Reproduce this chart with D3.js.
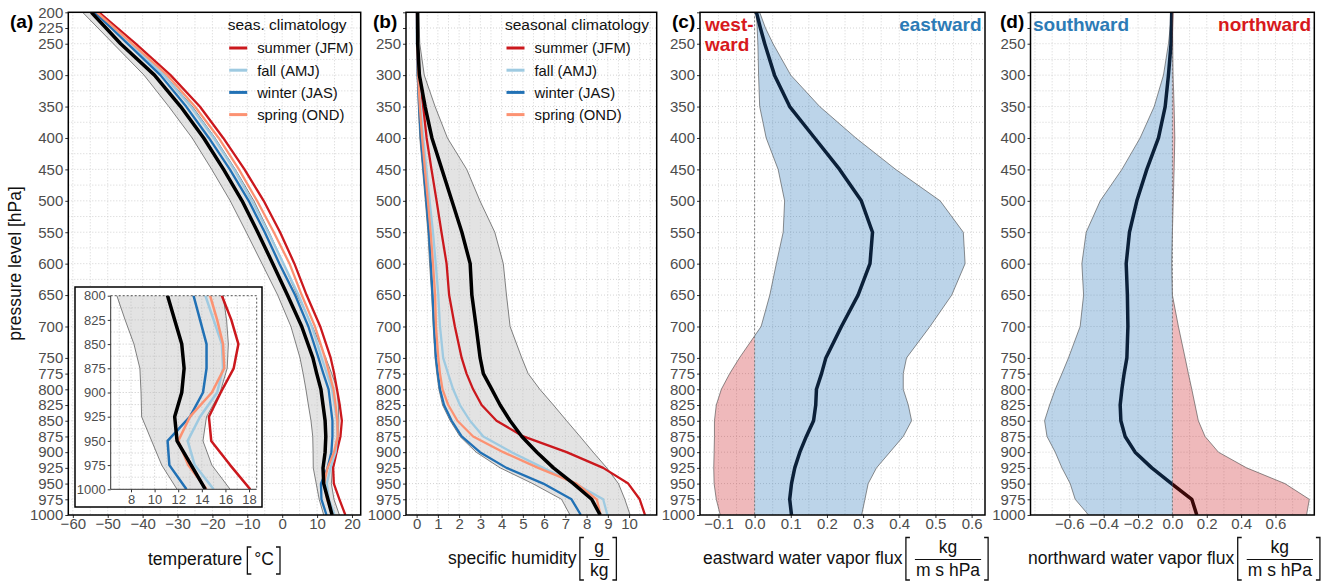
<!DOCTYPE html>
<html><head><meta charset="utf-8">
<script src="https://cdn.jsdelivr.net/npm/d3@7"></script>
<style>body{margin:0;background:#fff;} svg text{font-family:"Liberation Sans",Arial,sans-serif;}</style>
</head><body><svg id="chart" width="1324" height="584"></svg>
<script>
// ---------------- data ----------------
const levels = [200,225,250,300,350,400,450,500,550,600,650,700,750,775,800,825,850,875,900,925,950,975,1000];
const seasons = ["summer (JFM)","fall (AMJ)","winter (JAS)","spring (OND)"];
const seasonColors = ["#cb181d","#9ecae1","#2171b5","#fc9272"];

// (a) temperature [°C]
const tempMean   = [-54.7,-50.5,-46.3,-36.6,-29.1,-22.5,-16.8,-11.5,-7.0,-2.7,1.5,5.6,8.8,9.9,11.1,11.7,12.3,12.5,12.3,11.7,11.9,13.1,14.3];
const tempLow    = [-57.2,-52.8,-48.4,-39.6,-32.5,-25.8,-20.2,-14.9,-10.3,-5.8,-1.3,2.5,5.1,6.0,6.8,7.5,8.25,8.75,8.85,8.9,9.75,10.6,11.9];
const tempHigh   = [-52.2,-48.2,-44.2,-33.6,-25.7,-19.2,-13.4,-8.1,-3.7,0.4,4.3,8.7,12.5,14.2,15.8,16.1,16.25,16.15,15.55,14.4,14.1,14.85,16.4];
const tempSummer = [-52.5,-47.2,-42.0,-32.0,-23.6,-16.9,-10.8,-5.3,-0.6,3.5,7.0,10.9,13.9,14.9,15.7,16.5,17.1,16.7,15.6,14.6,14.8,16.4,18.1];
const tempFall   = [-53.4,-48.5,-43.6,-33.9,-26.2,-19.6,-13.8,-8.7,-4.0,0.4,4.7,8.5,11.3,12.8,14.3,15.0,15.7,15.8,15.3,13.85,12.8,13.4,15.0];
const tempWinter = [-53.7,-49.0,-44.3,-34.9,-27.5,-21.0,-15.0,-9.6,-5.0,-0.8,3.7,7.5,10.4,11.8,13.3,13.85,14.4,14.4,14.1,13.0,11.1,11.25,12.7];
const tempSpring = [-53.1,-48.0,-43.0,-32.9,-25.0,-18.2,-12.4,-7.2,-2.4,2.1,5.6,9.4,12.3,13.5,14.7,15.3,15.8,15.9,14.85,13.0,12.0,12.85,14.4];

// (b) specific humidity [g/kg]
const humMean   = [0.05,0.05,0.05,0.13,0.40,0.72,1.19,1.66,2.13,2.52,2.60,2.80,2.99,3.14,3.54,3.93,4.40,4.95,5.66,6.44,7.38,8.24,8.64];
const humLow    = [0.0,0.01,0.01,0.03,0.08,0.15,0.28,0.41,0.53,0.61,0.71,0.78,0.87,0.95,1.05,1.22,1.58,2.04,2.80,3.93,5.46,6.82,7.22];
const humHigh   = [0.08,0.12,0.15,0.36,0.87,1.45,2.36,2.98,3.68,4.08,4.23,4.40,4.95,5.25,5.80,6.44,7.06,7.69,8.31,8.95,9.50,9.80,10.05];
const humSummer = [0.02,0.03,0.05,0.12,0.31,0.47,0.70,0.94,1.17,1.41,1.53,1.80,2.12,2.35,2.66,3.06,3.76,5.02,7.06,8.78,9.96,10.50,10.75];
const humFall   = [0.01,0.02,0.03,0.08,0.18,0.31,0.46,0.61,0.77,0.90,1.02,1.10,1.25,1.48,1.72,2.04,2.51,3.14,4.47,5.96,7.46,8.78,8.98];
const humWinter = [0.01,0.015,0.02,0.05,0.12,0.20,0.33,0.46,0.58,0.67,0.75,0.82,0.91,1.00,1.10,1.29,1.65,2.12,2.98,4.23,5.96,7.29,7.73];
const humSpring = [0.01,0.02,0.03,0.07,0.15,0.26,0.39,0.53,0.66,0.77,0.87,0.91,1.02,1.10,1.22,1.49,1.92,2.66,4.08,5.72,7.53,8.48,8.66];

// (c) eastward water vapour flux [kg/(m s hPa)]
const eastMean = [0.005,0.016,0.028,0.055,0.097,0.166,0.235,0.295,0.326,0.319,0.286,0.240,0.197,0.185,0.171,0.169,0.163,0.143,0.125,0.111,0.102,0.097,0.102];
const eastLow  = [0.005,0.007,0.009,0.011,0.014,0.032,0.065,0.083,0.079,0.060,0.042,0.018,-0.042,-0.069,-0.092,-0.106,-0.111,-0.111,-0.112,-0.113,-0.112,-0.106,-0.095];
const eastHigh = [0.014,0.030,0.051,0.100,0.180,0.280,0.390,0.513,0.577,0.582,0.545,0.485,0.420,0.411,0.411,0.425,0.434,0.411,0.374,0.337,0.314,0.305,0.296];

// (d) northward water vapour flux [kg/(m s hPa)]
const northMean = [-0.004,-0.006,-0.008,-0.023,-0.042,-0.081,-0.149,-0.207,-0.250,-0.269,-0.262,-0.259,-0.265,-0.281,-0.294,-0.304,-0.300,-0.275,-0.217,-0.120,-0.005,0.113,0.142];
const northLow  = [-0.004,-0.013,-0.023,-0.052,-0.106,-0.188,-0.294,-0.420,-0.502,-0.527,-0.517,-0.537,-0.605,-0.643,-0.682,-0.715,-0.744,-0.730,-0.682,-0.643,-0.595,-0.566,-0.488];
const northHigh = [0.0,0.001,0.002,0.004,0.010,0.014,0.010,0.005,0.0,-0.004,0.0,0.035,0.074,0.093,0.113,0.132,0.151,0.190,0.268,0.432,0.655,0.797,0.781];

// ticks
const pressureTicks = [200,225,250,300,350,400,450,500,550,600,650,700,750,775,800,825,850,875,900,925,950,975,1000];
const tempTicks = [-60,-50,-40,-30,-20,-10,0,10,20];
const humTicks = [0,1,2,3,4,5,6,7,8,9,10];
const eastTicks = [-0.1,0.0,0.1,0.2,0.3,0.4,0.5,0.6];
const northTicks = [-0.6,-0.4,-0.2,0.0,0.2,0.4,0.6];
const insetTempTicks = [8,10,12,14,16,18];
const insetPressureTicks = [800,825,850,875,900,925,950,975,1000];

// ---------------- drawing ----------------
const svg = d3.select("#chart");
const FONT = '"Liberation Sans",Arial,sans-serif';
const Y0 = 12.3, Y1 = 515;
const y = d3.scaleLinear().domain([200,1000]).range([Y0,Y1]);
const gridLevels = d3.range(200,1001,25);
const prof = vals => levels.map((p,i)=>({p, v: vals[i]}));
const band = (lo,hi) => levels.map((p,i)=>({p, lo: lo[i], hi: hi[i]}));
const GRID = "#c9c9c9";
let clipId = 0;
function clip(x0,y0,w,h){
  const id = "cl"+(clipId++);
  svg.append("clipPath").attr("id",id).append("rect").attr("x",x0).attr("y",y0).attr("width",w).attr("height",h);
  return `url(#${id})`;
}
function styleAxis(g, size){
  g.select(".domain").remove();
  g.selectAll("text").attr("font-size",size).attr("fill","#4d4d4d").attr("font-family",FONT);
  g.selectAll("line").attr("stroke","#333").attr("stroke-width",1);
}

function makePanel(cfg){
  const x = d3.scaleLinear().domain(cfg.dom).range([cfg.x0,cfg.x1]);
  const cp = clip(cfg.x0,Y0,cfg.x1-cfg.x0,Y1-Y0);
  const grid = svg.append("g").attr("clip-path",cp);
  grid.selectAll("line.v").data(cfg.grid).join("line")
    .attr("x1",d=>x(d)).attr("x2",d=>x(d)).attr("y1",Y0).attr("y2",Y1)
    .attr("stroke",GRID).attr("stroke-width",0.8).attr("stroke-dasharray","1,2");
  grid.selectAll("line.h").data(gridLevels).join("line")
    .attr("x1",cfg.x0).attr("x2",cfg.x1).attr("y1",d=>y(d)).attr("y2",d=>y(d))
    .attr("stroke",GRID).attr("stroke-width",0.8).attr("stroke-dasharray","1,2");
  const content = svg.append("g").attr("clip-path",cp);
  const ay = svg.append("g").attr("transform",`translate(${cfg.x0},0)`)
    .call(d3.axisLeft(y).tickValues(pressureTicks).tickSize(3).tickPadding(2)
      .tickFormat(d => (cfg.hideTop && d < 250) ? "" : String(d)));
  styleAxis(ay,15);
  const ax = svg.append("g").attr("transform",`translate(0,${Y1})`)
    .call(d3.axisBottom(x).tickValues(cfg.ticks).tickSize(3).tickPadding(0).tickFormat(cfg.fmt));
  styleAxis(ax,15);
  return {x, content, frame: () => svg.append("rect").attr("x",cfg.x0).attr("y",Y0)
      .attr("width",cfg.x1-cfg.x0).attr("height",Y1-Y0).attr("fill","none").attr("stroke","#000").attr("stroke-width",1.5)};
}

function drawBandAndLines(g, x, yy, lo, hi, mean, seasonal, mw, sw){
  const b = band(lo,hi);
  g.append("path").datum(b).attr("d", d3.area().y(d=>yy(d.p)).x0(d=>x(d.lo)).x1(d=>x(d.hi)))
    .attr("fill","#bdbdbd").attr("fill-opacity",0.42);
  const ln = d3.line().x(d=>x(d.v)).y(d=>yy(d.p));
  [lo,hi].forEach(a => g.append("path").datum(prof(a)).attr("d",ln).attr("fill","none").attr("stroke","#333").attr("stroke-width",0.6));
  seasonal.forEach((s,i)=> g.append("path").datum(prof(s)).attr("d",ln).attr("fill","none")
      .attr("stroke",seasonColors[i]).attr("stroke-width",sw).attr("stroke-linejoin","round"));
  g.append("path").datum(prof(mean)).attr("d",ln).attr("fill","none").attr("stroke","#000").attr("stroke-width",mw).attr("stroke-linejoin","round");
}

function legend(x0, title){
  svg.append("text").attr("x",x0).attr("y",30).attr("font-size",15.5).attr("fill","#111").text(title);
  seasons.forEach((s,i)=>{
    const by = 53.3 + i*22.2;
    svg.append("line").attr("x1",x0+1.5).attr("x2",x0+19.5).attr("y1",by-5.3).attr("y2",by-5.3)
      .attr("stroke",seasonColors[i]).attr("stroke-width",3);
    svg.append("text").attr("x",x0+29.5).attr("y",by).attr("font-size",14.8).attr("fill","#111").text(s);
  });
}

function bracketL(x, y0, y1){ svg.append("path").attr("d",`M${x+4},${y0}H${x}V${y1}H${x+4}`).attr("fill","none").attr("stroke","#111").attr("stroke-width",1.3); }
function bracketR(x, y0, y1){ svg.append("path").attr("d",`M${x-4},${y0}H${x}V${y1}H${x-4}`).attr("fill","none").attr("stroke","#111").attr("stroke-width",1.3); }
function xTitleFrac(x0, label, num, den){
  const t = svg.append("text").attr("x",x0).attr("y",563.5).attr("font-size",17.5).attr("fill","#111").text(label);
  const L = t.node().getComputedTextLength();
  const bx = x0 + L + 3.5;
  const d = svg.append("text").attr("y",575.5).attr("font-size",17.5).attr("fill","#111").attr("text-anchor","middle").text(den);
  const dw = d.node().getComputedTextLength();
  const cx = bx + 10 + dw/2;
  d.attr("x",cx);
  svg.append("text").attr("x",cx).attr("y",553).attr("font-size",17.5).attr("fill","#111").attr("text-anchor","middle").text(num);
  svg.append("line").attr("x1",cx-dw/2-1).attr("x2",cx+dw/2+1).attr("y1",559.5).attr("y2",559.5).attr("stroke","#111").attr("stroke-width",1);
  bracketL(bx,537.5,580);
  bracketR(cx+dw/2+8,537.5,580);
}

// ---- panel (a)
const pa = makePanel({x0:68.3,x1:360.7,dom:[-61.3,22.5],ticks:tempTicks,grid:d3.range(-60,21,5),fmt:d3.format("d"),hideTop:false});
drawBandAndLines(pa.content, pa.x, y, tempLow, tempHigh, tempMean, [tempSummer,tempFall,tempWinter,tempSpring], 3.5, 2.3);
pa.frame();
legend(227.7,"seas. climatology");

// inset
svg.append("rect").attr("x",75).attr("y",287).attr("width",187).attr("height",220).attr("fill","#fff").attr("stroke","#000").attr("stroke-width",1.5);
const ix0=110.7, ix1=256.7, iy0=295.7, iy1=489.3;
const xi = d3.scaleLinear().domain([6.28,18.65]).range([ix0,ix1]);
const yi = d3.scaleLinear().domain([800,1000]).range([iy0,iy1]);
const icp = clip(ix0,iy0,ix1-ix0,iy1-iy0);
const ig = svg.append("g").attr("clip-path",icp);
ig.selectAll("line.v").data(d3.range(7,19,1)).join("line").attr("x1",d=>xi(d)).attr("x2",d=>xi(d)).attr("y1",iy0).attr("y2",iy1)
  .attr("stroke","#bbb").attr("stroke-width",0.8).attr("stroke-dasharray","1,2");
ig.selectAll("line.h").data(d3.range(800,1001,12.5)).join("line").attr("x1",ix0).attr("x2",ix1).attr("y1",d=>yi(d)).attr("y2",d=>yi(d))
  .attr("stroke","#bbb").attr("stroke-width",0.8).attr("stroke-dasharray","1,2");
drawBandAndLines(ig, xi, yi, tempLow, tempHigh, tempMean, [tempSummer,tempFall,tempWinter,tempSpring], 3.5, 2.5);
svg.append("path").attr("d",`M${ix0},${iy0}H${ix1}V${iy1}`).attr("fill","none").attr("stroke","#555").attr("stroke-width",1).attr("stroke-dasharray","2,2");
svg.append("path").attr("d",`M${ix0},${iy0}V${iy1}H${ix1}`).attr("fill","none").attr("stroke","#333").attr("stroke-width",1);
const iay = svg.append("g").attr("transform",`translate(${ix0},0)`)
  .call(d3.axisLeft(yi).tickValues(insetPressureTicks).tickSize(3).tickPadding(2).tickFormat(d3.format("d")));
styleAxis(iay,13);
const iax = svg.append("g").attr("transform",`translate(0,${iy1})`)
  .call(d3.axisBottom(xi).tickValues(insetTempTicks).tickSize(3).tickPadding(2).tickFormat(d3.format("d")));
styleAxis(iax,13);

// ---- panel (b)
const pb = makePanel({x0:406,x1:656.7,dom:[-0.5,11.3],ticks:humTicks,grid:d3.range(0,11.01,0.5),fmt:d3.format("d"),hideTop:true});
drawBandAndLines(pb.content, pb.x, y, humLow, humHigh, humMean, [humSummer,humFall,humWinter,humSpring], 3.5, 2.3);
pb.frame();
legend(505,"seasonal climatology");

// ---- flux panels
function fluxPanel(p, lo, hi, mean, posFill, negFill, posLine, negLine){
  const x = p.x, g = p.content;
  const [d0,d1] = x.domain();
  const posClip = clip(x(0),Y0,x(d1)-x(0),Y1-Y0);
  const negClip = clip(x(d0),Y0,x(0)-x(d0),Y1-Y0);
  const b = band(lo,hi);
  const ar = d3.area().y(d=>y(d.p)).x0(d=>x(d.lo)).x1(d=>x(d.hi));
  g.append("path").datum(b).attr("d",ar).attr("fill",posFill).attr("fill-opacity",0.3).attr("clip-path",posClip);
  g.append("path").datum(b).attr("d",ar).attr("fill",negFill).attr("fill-opacity",0.3).attr("clip-path",negClip);
  const ln = d3.line().x(d=>x(d.v)).y(d=>y(d.p));
  [lo,hi].forEach(a => g.append("path").datum(prof(a)).attr("d",ln).attr("fill","none").attr("stroke","#444").attr("stroke-width",0.6));
  g.append("line").attr("x1",x(0)).attr("x2",x(0)).attr("y1",Y0).attr("y2",Y1).attr("stroke","#777").attr("stroke-width",1).attr("stroke-dasharray","2,2");
  g.append("path").datum(prof(mean)).attr("d",ln).attr("fill","none").attr("stroke",posLine).attr("stroke-width",3.5).attr("stroke-linejoin","round").attr("clip-path",posClip);
  g.append("path").datum(prof(mean)).attr("d",ln).attr("fill","none").attr("stroke",negLine).attr("stroke-width",3.5).attr("stroke-linejoin","round").attr("clip-path",negClip);
}
const NAVY = "#0b2039", MAROON = "#3a0808", BLUE = "#2171b5", RED = "#cb181d";
const pc = makePanel({x0:700,x1:985,dom:[-0.151,0.637],ticks:eastTicks,grid:d3.range(-0.15,0.651,0.05),fmt:d3.format(".1f"),hideTop:true});
fluxPanel(pc, eastLow, eastHigh, eastMean, BLUE, RED, NAVY, MAROON);
pc.frame();
const pd = makePanel({x0:1030.5,x1:1314.3,dom:[-0.826,0.826],ticks:northTicks,grid:d3.range(-0.8,0.801,0.1),fmt:d3.format(".1f"),hideTop:true});
fluxPanel(pd, northLow, northHigh, northMean, RED, BLUE, MAROON, NAVY);
pd.frame();

// direction labels
const dir = (x,yv,t,c,anchor) => svg.append("text").attr("x",x).attr("y",yv).attr("font-size",19).attr("font-weight","bold")
  .attr("fill",c).attr("text-anchor",anchor||"start").text(t);
dir(705,31,"west-","#d7191c"); dir(705,50.5,"ward","#d7191c");
dir(981.5,31,"eastward","#2c7bb6","end");
dir(1033,31,"southward","#2c7bb6");
dir(1311,31,"northward","#d7191c","end");

// panel letters
[["(a)",10],["(b)",373],["(c)",672],["(d)",1000]].forEach(([t,x])=>
  svg.append("text").attr("x",x).attr("y",27.5).attr("font-size",19).attr("font-weight","bold").attr("fill","#000").text(t));

// y title
svg.append("text").attr("transform","translate(20.5,263.5) rotate(-90)").attr("text-anchor","middle")
  .attr("font-size",17.5).attr("fill","#111").text("pressure level [hPa]");

// x titles
(function(){
  const x0 = 148;
  const t = svg.append("text").attr("x",x0).attr("y",565).attr("font-size",17.5).attr("fill","#111").text("temperature");
  const L = t.node().getComputedTextLength();
  const bx = x0 + L + 5;
  const u = svg.append("text").attr("x",bx+7).attr("y",565).attr("font-size",17.5).attr("fill","#111").text("°C");
  const uw = u.node().getComputedTextLength();
  bracketL(bx,547,574);
  bracketR(bx+7+uw+6,547,574);
})();
xTitleFrac(448,"specific humidity","g","kg");
xTitleFrac(703,"eastward water vapor flux","kg","m s hPa");
xTitleFrac(1028,"northward water vapor flux","kg","m s hPa");
</script></body></html>
